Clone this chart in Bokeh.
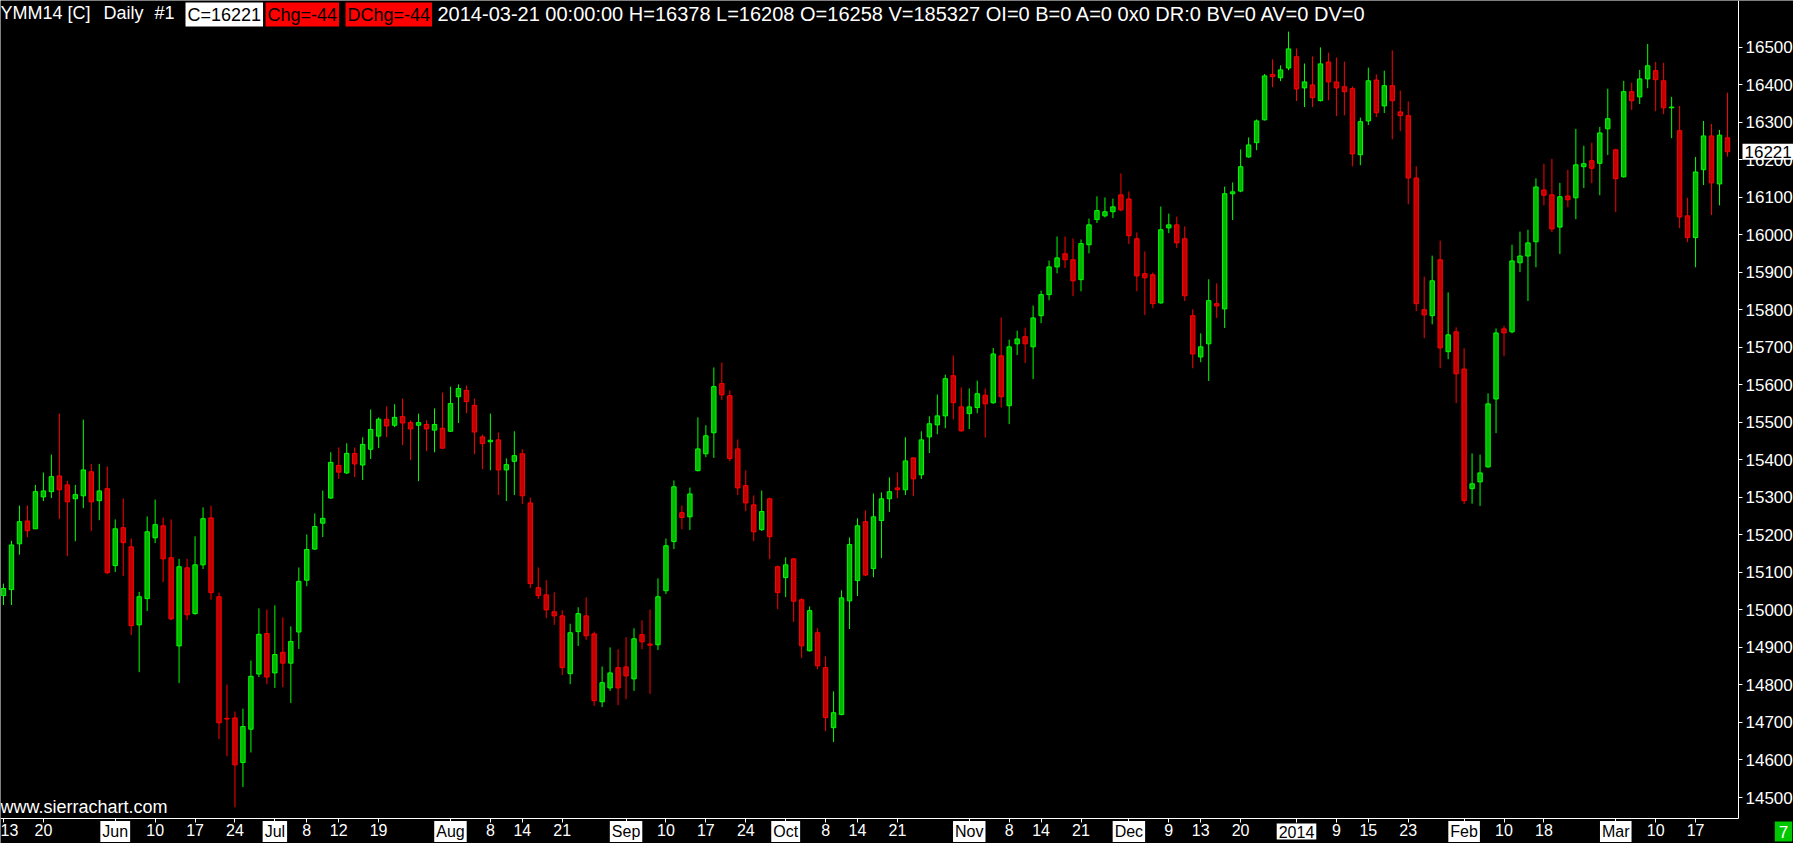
from bokeh.plotting import figure
from bokeh.models import LinearAxis, FixedTicker, Label, Range1d, ColumnDataSource
from bokeh.embed import file_html
from bokeh.resources import INLINE

# ---------------- data ----------------
opens = [15038,15054,15176,15237,15216,15301,15315,15357,15333,15296,15304,15368,15291,15323,15118,15219,15168,14960,15030,15192,
         15224,15139,14904,15112,14990,15120,15245,15035,14711,14712,14593,14682,14829,14937,14832,14887,14858,14941,15079,15162,
         15231,15298,15385,15365,15417,15386,15428,15463,15508,15492,15515,15499,15492,15494,15479,15484,15476,15568,15585,15545,
         15461,15448,15453,15373,15396,15416,15285,15059,15040,14995,14984,14830,14942,14984,14936,14755,14792,14846,14848,14816,
         14934,14909,14907,15051,15182,15259,15248,15371,15416,15472,15603,15571,15429,15331,15280,15214,15296,15115,15086,15136,
         15027,14891,14939,14846,14686,14721,15024,15078,15235,15110,15238,15296,15325,15320,15405,15360,15461,15493,15517,15624,
         15541,15523,15539,15572,15552,15677,15544,15709,15728,15701,15784,15840,15914,15949,15933,15880,15973,16040,16050,16061,
         16106,16095,15989,15896,15893,15818,16018,16026,15989,15784,15674,15709,15816,15802,16109,16116,16207,16245,16306,16427,
         16418,16444,16474,16391,16399,16357,16460,16407,16394,16389,16213,16303,16412,16343,16397,16327,16317,16151,15800,15784,
         15933,15688,15741,15642,15323,15341,15381,15562,15749,15741,15925,15943,15981,16119,16106,16020,16103,16098,16181,16197,
         16190,16282,16226,16154,16381,16367,16415,16437,16410,16338,16277,16050,15992,16173,16263,16135,16258]
highs = [15070,15184,15278,15278,15333,15366,15414,15523,15344,15333,15507,15389,15389,15382,15241,15297,15190,15048,15249,15294,
         15246,15241,15136,15136,15196,15273,15278,15046,14801,14729,14737,14865,15004,15001,15012,14980,14956,15113,15201,15257,
         15318,15420,15433,15444,15433,15460,15534,15513,15542,15548,15563,15505,15523,15505,15537,15579,15595,15601,15598,15563,
         15467,15523,15473,15404,15476,15428,15299,15113,15079,15047,14999,14963,15007,15033,14942,14849,14900,14895,14927,14951,
         14972,15001,15084,15190,15345,15278,15326,15513,15492,15646,15659,15585,15454,15372,15305,15318,15299,15118,15140,15137,
         15031,15009,14951,14876,14783,15052,15193,15244,15265,15310,15313,15353,15366,15460,15406,15476,15516,15574,15627,15678,
         15593,15590,15611,15590,15698,15779,15720,15744,15752,15811,15851,15931,15995,15995,15990,15987,16043,16102,16099,16096,
         16163,16115,16006,15955,15899,16075,16056,16048,16022,15801,15737,15881,15870,16128,16139,16227,16259,16307,16428,16467,
         16451,16541,16496,16456,16475,16499,16485,16472,16461,16395,16312,16445,16427,16437,16491,16384,16355,16182,15888,15944,
         15984,15846,15753,15697,15417,15414,15577,15750,15757,15973,16008,16013,16150,16189,16202,16138,16173,16282,16237,16245,
         16287,16389,16229,16410,16405,16439,16508,16460,16458,16367,16343,16098,16207,16303,16295,16279,16378]
lows = [15013,15013,15147,15194,15216,15290,15298,15242,15143,15183,15271,15210,15239,15095,15101,15090,14933,14834,14997,15178,
        15074,14973,14805,14973,14987,15109,15027,14656,14610,14474,14528,14620,14821,14802,14792,14794,14752,14896,15063,15160,
        15194,15296,15349,15362,15354,15346,15402,15431,15460,15487,15439,15399,15343,15423,15420,15429,15474,15498,15524,15415,
        15375,15372,15306,15290,15306,15282,15058,15029,14978,14960,14826,14802,14904,14920,14744,14741,14784,14746,14762,14784,
        14895,14776,14893,15042,15162,15215,15213,15369,15407,15405,15559,15396,15306,15263,15183,15210,15135,15002,15034,14968,
        14872,14889,14842,14677,14648,14719,14949,15037,15090,15087,15138,15261,15298,15306,15303,15349,15418,15468,15484,15508,
        15475,15482,15524,15459,15549,15539,15495,15679,15658,15615,15764,15825,15897,15911,15836,15849,15950,16031,16046,16044,
        16062,15975,15849,15786,15804,15816,16004,15964,15823,15644,15660,15610,15778,15751,16039,16113,16205,16225,16304,16393,
        16409,16438,16356,16340,16340,16355,16358,16316,16318,16182,16185,16292,16313,16324,16254,16276,16081,15796,15724,15761,
        15644,15668,15551,15282,15283,15277,15379,15471,15676,15737,15900,15823,15913,16078,16007,15948,16073,16041,16124,16137,
        16105,16212,16060,16152,16332,16348,16390,16329,16321,16257,16017,15980,15913,16132,16052,16078,16208]
closes = [15057,15173,15235,15211,15315,15317,15355,15320,15288,15307,15373,15288,15317,15099,15216,15179,14958,15035,15208,15227,
          15136,14976,15115,14987,15120,15243,15046,14699,14709,14587,14689,14823,14935,14821,14881,14858,14916,15076,15161,15222,
          15244,15393,15367,15417,15389,15441,15481,15508,15490,15513,15498,15482,15499,15482,15494,15431,15550,15590,15555,15474,
          15443,15452,15373,15387,15411,15304,15070,15038,15000,14984,14846,14939,14990,14931,14758,14806,14832,14792,14824,14923,
          14915,14906,15035,15171,15328,15246,15309,15429,15464,15595,15573,15403,15325,15285,15208,15262,15195,15046,15120,15023,
          14904,14998,14851,14713,14726,15032,15174,15224,15093,15248,15296,15315,15320,15397,15349,15453,15496,15517,15616,15552,
          15477,15541,15576,15549,15682,15568,15701,15722,15709,15778,15840,15914,15938,15933,15877,15976,16026,16064,16061,16074,
          16066,15997,15890,15885,15816,16013,16026,15978,15837,15682,15701,15824,15810,16109,16114,16181,16239,16303,16423,16421,
          16439,16495,16388,16407,16365,16455,16407,16391,16381,16215,16301,16410,16325,16397,16357,16317,16151,15816,15786,15877,
          15698,15733,15629,15291,15336,15365,15549,15738,15738,15930,15943,15978,16127,16105,16015,16101,16093,16186,16189,16177,
          16271,16309,16149,16381,16357,16415,16450,16413,16338,16340,16047,15992,16167,16263,16138,16265,16221]

# bottom axis: bar index of each labelled date and its text
tick_idx = [0, 5, 14, 19, 24, 29, 34, 38, 42, 47, 56, 61, 65, 70, 78, 83, 88, 93, 98, 103,
            107, 112, 121, 126, 130, 135, 141, 146, 150, 155, 162, 167, 171, 176, 183, 188, 193, 202, 207, 212]
tick_lbl = ["13", "20", "Jun", "10", "17", "24", "Jul", "8", "12", "19", "Aug", "8", "14", "21", "Sep", "10", "17", "24", "Oct", "8",
            "14", "21", "Nov", "8", "14", "21", "Dec", "9", "13", "20", "2014", "9", "15", "23", "Feb", "10", "18", "Mar", "10", "17"]
month_lbl = ["Jun", "Jul", "Aug", "Sep", "Oct", "Nov", "Dec", "2014", "Feb", "Mar"]

price_ticks = [14500, 14600, 14700, 14800, 14900, 15000, 15100, 15200, 15300, 15400, 15500,
               15600, 15700, 15800, 15900, 16000, 16100, 16200, 16300, 16400, 16500]
last_price = 16221

header_plain = ["YMM14 [C]", "Daily", "#1"]
header_close = "C=16221"
header_chg = ["Chg=-44", "DChg=-44"]
header_rest = "2014-03-21 00:00:00 H=16378 L=16208 O=16258 V=185327 OI=0 B=0 A=0 0x0 DR:0 BV=0 AV=0 DV=0"
watermark = "www.sierrachart.com"
corner_text = "7"

# ---------------- layout (page pixels; the canvas starts at page 8,8) ----------------
FONT = "Liberation Sans"
W, H = 1793, 843
PAGE0 = 8
BAR0_X, BARN_X = 11.0, 1735.0          # page x of first and last bar
AXIS_X, AXIS_Y = 1746.0, 826.0         # page position of price axis line and time axis line
LABEL_MID_Y = 839.0                    # page y of the middle of the time labels
n = len(opens)
PX_PER_BAR = (BARN_X - BAR0_X) / (n - 1)


def idx_at(page_x):
    return (page_x - BAR0_X) / PX_PER_BAR


def price_at(page_y):
    # reference scale: 16500 at page y 54.5, 14500 at page y 805
    return 16500 - (page_y - 54.5) * 2000.0 / 750.5


x0, x1 = idx_at(PAGE0), idx_at(PAGE0 + W)
y0, y1 = price_at(PAGE0 + H), price_at(PAGE0)

p = figure(width=W, height=H, output_backend="svg", toolbar_location=None,
           x_range=Range1d(x0, x1), y_range=Range1d(y0, y1),
           x_axis_location=None, y_axis_location=None,
           background_fill_color="black", border_fill_color="black",
           min_border=0, min_border_left=0, min_border_top=0,
           min_border_right=0, min_border_bottom=0)
p.outline_line_color = None
p.xgrid.visible = False
p.ygrid.visible = False

GREEN_L, GREEN_F = "#00ff00", "#00b400"
RED_L, RED_F = "#ff0000", "#c00000"

up = [c >= o for o, c in zip(opens, closes)]
src = ColumnDataSource(dict(
    x=list(range(n)),
    high=highs, low=lows,
    top=[max(o, c) for o, c in zip(opens, closes)],
    bottom=[min(o, c) for o, c in zip(opens, closes)],
    line=[GREEN_L if u else RED_L for u in up],
    fill=[GREEN_F if u else RED_F for u in up],
))
p.segment(x0="x", y0="high", x1="x", y1="low", line_color="line", line_width=1, source=src)
p.vbar(x="x", width=0.55, top="top", bottom="bottom", fill_color="fill",
       line_color="line", line_width=1, source=src)

ax_x = idx_at(AXIS_X)
ax_y = price_at(AXIS_Y)

# bottom time axis
overrides = {i: ("" if l in month_lbl else l) for i, l in zip(tick_idx, tick_lbl)}
xa = LinearAxis(ticker=FixedTicker(ticks=tick_idx, minor_ticks=[]),
                major_label_overrides=overrides,
                fixed_location=ax_y, bounds=(x0, ax_x),
                axis_line_color="white", axis_line_width=1,
                major_tick_line_color="white", major_tick_in=0, major_tick_out=4,
                minor_tick_line_color=None,
                major_label_standoff=1,
                major_label_text_color="white",
                major_label_text_font=FONT, major_label_text_font_size="16px")
p.add_layout(xa, "below")

# right price axis
ya = LinearAxis(ticker=FixedTicker(ticks=price_ticks, minor_ticks=[]),
                fixed_location=ax_x, bounds=(ax_y, y1),
                axis_line_color="white", axis_line_width=1,
                major_tick_line_color="white", major_tick_in=0, major_tick_out=4,
                minor_tick_line_color=None,
                major_label_standoff=3,
                major_label_text_color="white",
                major_label_text_font=FONT, major_label_text_font_size="17px")
p.add_layout(ya, "right")

label_y = PAGE0 + H - LABEL_MID_Y   # screen units above the canvas bottom

# month labels in white boxes
for i, l in zip(tick_idx, tick_lbl):
    if l in month_lbl:
        p.add_layout(Label(x=i, y=label_y, x_units="data", y_units="screen", text=l,
                           text_align="center", text_baseline="middle",
                           text_font=FONT, text_font_size="16px", text_color="black",
                           background_fill_color="white", padding=2))

# last price box on the price axis
p.add_layout(Label(x=AXIS_X + 4 - PAGE0, y=last_price, x_units="screen", y_units="data",
                   text=str(last_price), text_align="left", text_baseline="middle",
                   text_font=FONT, text_font_size="17px", text_color="black",
                   background_fill_color="white", padding=2))

# green corner box
p.add_layout(Label(x=1791 - PAGE0, y=label_y, x_units="screen", y_units="screen", text=corner_text,
                   text_align="center", text_baseline="middle",
                   text_font=FONT, text_font_size="17px", text_color="white",
                   background_fill_color="#00c800", padding=4))

# watermark
p.add_layout(Label(x=0, y=PAGE0 + H - (AXIS_Y - 2), x_units="screen", y_units="screen", text=watermark,
                   text_align="left", text_baseline="bottom",
                   text_font=FONT, text_font_size="18px", text_color="white"))

# header line
hy = price_at(10)
for txt, xs in zip(header_plain, [0, 103, 154]):
    p.add_layout(Label(x=xs, y=hy, x_units="screen", y_units="data", text=txt,
                       text_align="left", text_baseline="top",
                       text_font=FONT, text_font_size="18px", text_color="white"))
p.add_layout(Label(x=185, y=hy, x_units="screen", y_units="data", text=header_close,
                   text_align="left", text_baseline="top",
                   text_font=FONT, text_font_size="18px", text_color="black",
                   background_fill_color="white", padding=2))
for txt, xs in zip(header_chg, [265, 345]):
    p.add_layout(Label(x=xs, y=hy, x_units="screen", y_units="data", text=txt,
                       text_align="left", text_baseline="top",
                       text_font=FONT, text_font_size="18px", text_color="black",
                       background_fill_color="#ff0000", padding=2))
p.add_layout(Label(x=437, y=hy, x_units="screen", y_units="data", text=header_rest,
                   text_align="left", text_baseline="top",
                   text_font=FONT, text_font_size="20px", text_color="white"))

open("out.html", "w").write(file_html(p, INLINE))
